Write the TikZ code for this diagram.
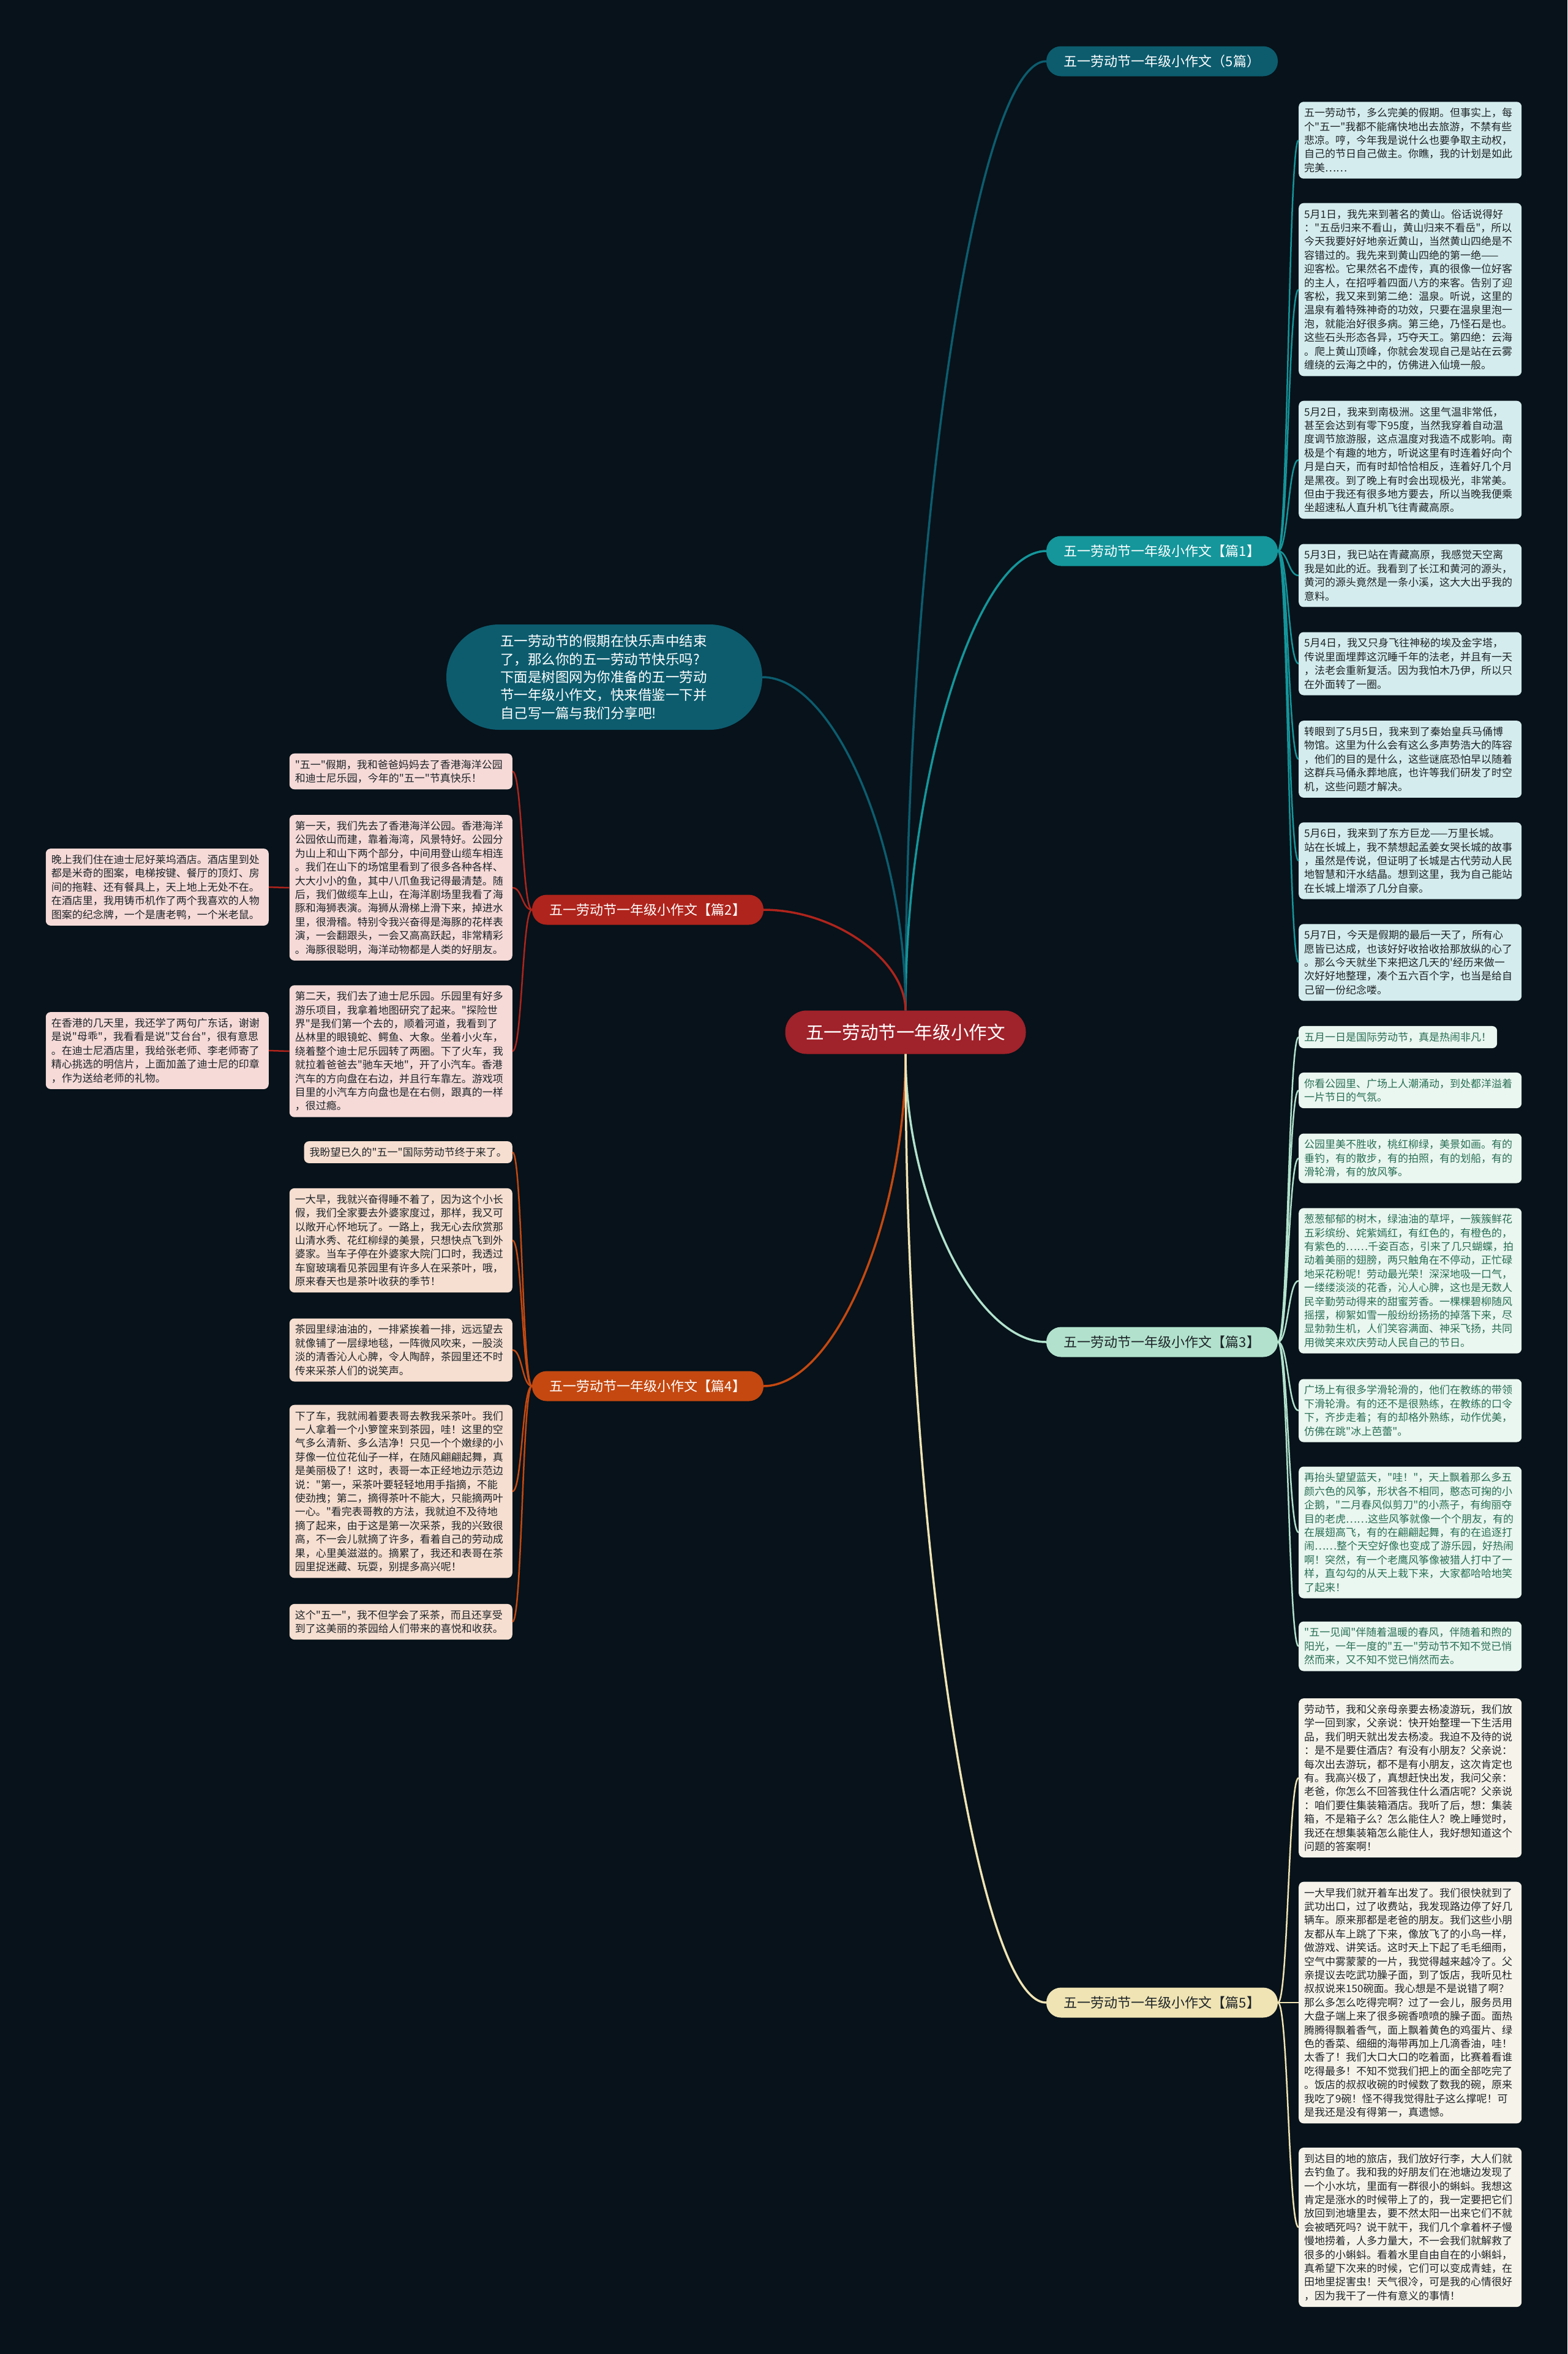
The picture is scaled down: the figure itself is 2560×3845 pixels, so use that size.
\documentclass[tikz,border=0pt]{standalone}
\usepackage{fontspec}
\setmainfont{Noto Sans CJK SC}[Ligatures=TeXOff]
\usetikzlibrary{calc}

\definecolor{bgnavy}{RGB}{7,18,26}
\definecolor{rootred}{RGB}{160,34,42}
\definecolor{deepteal}{RGB}{12,92,110}
\definecolor{brightteal}{RGB}{20,150,155}
\definecolor{tealfill}{RGB}{212,236,237}
\definecolor{redbranch}{RGB}{175,36,28}
\definecolor{pinkfill}{RGB}{245,218,216}
\definecolor{mintbranch}{RGB}{178,226,205}
\definecolor{mintfill}{RGB}{234,246,240}
\definecolor{mintink}{RGB}{40,110,85}
\definecolor{orangebranch}{RGB}{196,72,16}
\definecolor{peachfill}{RGB}{246,222,208}
\definecolor{creambranch}{RGB}{240,228,180}
\definecolor{creamfill}{RGB}{246,243,234}
\definecolor{darkink}{RGB}{30,36,40}

\tikzset{
  trunk/.style={line width=3.5pt, to path={let \p1=(\tikztostart), \p2=(\tikztotarget) in
    .. controls (\x1,{(\y1+\y2)/2}) and ({(\x1+\x2)/2},\y2) .. (\tikztotarget)}},
  twig/.style={line width=2.5pt, to path={let \p1=(\tikztostart), \p2=(\tikztotarget) in
    .. controls ({(\x1+\x2)/2},\y1) and ({(\x1+\x2)/2},\y2) .. (\tikztotarget)}},
  topic/.style={rounded corners=24pt, minimum width=378pt, minimum height=49pt, inner sep=0pt,
    font=\fontsize{22}{26}\selectfont},
  note/.style={rounded corners=8pt, inner xsep=9pt, inner ysep=10pt, align=left,
    font=\fontsize{17}{22.4}\selectfont},
  leaf/.style={note, text width=346pt},
  tealnote/.style={fill=tealfill, text=darkink, anchor=west},
  pinknote/.style={fill=pinkfill, text=darkink, anchor=east},
  mintnote/.style={fill=mintfill, text=mintink, anchor=west},
  peachnote/.style={fill=peachfill, text=darkink, anchor=east},
  creamnote/.style={fill=creamfill, text=darkink, anchor=west},
}

\begin{document}
\begin{tikzpicture}[x=1pt, y=-1pt]

  % Canvas
  \fill[bgnavy] (0,0) rectangle (2560,3845);
  \useasboundingbox (0,0) rectangle (2560,3845);

  % Root and main topics
  \node[rounded corners=35pt, fill=rootred, text=white, minimum width=393pt, minimum height=71pt,
    font=\fontsize{29.6}{34}\selectfont] (c) at (1479,1686) {五一劳动节一年级小作文};
  \node[topic, fill=deepteal, text=white] (b0) at (1898,100) {五一劳动节一年级小作文（5篇）};
  \node[topic, fill=brightteal, text=white] (b1) at (1898,900) {五一劳动节一年级小作文【篇1】};
  \node[topic, fill=redbranch, text=white] (b2) at (1058,1486) {五一劳动节一年级小作文【篇2】};
  \node[topic, fill=mintbranch, text=darkink] (b3) at (1898,2192) {五一劳动节一年级小作文【篇3】};
  \node[topic, fill=orangebranch, text=white] (b4) at (1058,2264) {五一劳动节一年级小作文【篇4】};
  \node[topic, fill=creambranch, text=darkink] (b5) at (1898,3271) {五一劳动节一年级小作文【篇5】};
  % Intro bubble
  \node[rounded corners=86pt, fill=deepteal, text=white, minimum height=172pt, inner xsep=88pt,
    text width=340pt, align=left, font=\fontsize{22.5}{29.4}\selectfont] (intro) at (987,1106)
    {五一劳动节的假期在快乐声中结束\\了，那么你的五一劳动节快乐吗?\\下面是树图网为你准备的五一劳动\\节一年级小作文，快来借鉴一下并\\自己写一篇与我们分享吧!};

  % Notes of part 1
  \node[leaf, tealnote] (l11) at (2121,229) {五一劳动节，多么完美的假期。但事实上，每\\个"五一"我都不能痛快地出去旅游，不禁有些\\悲凉。哼，今年我是说什么也要争取主动权，\\自己的节日自己做主。你瞧，我的计划是如此\\完美……};
  \node[leaf, tealnote] (l12) at (2121,473) {5月1日，我先来到著名的黄山。俗话说得好\\："五岳归来不看山，黄山归来不看岳"，所以\\今天我要好好地亲近黄山，当然黄山四绝是不\\容错过的。我先来到黄山四绝的第一绝——\\迎客松。它果然名不虚传，真的很像一位好客\\的主人，在招呼着四面八方的来客。告别了迎\\客松，我又来到第二绝：温泉。听说，这里的\\温泉有着特殊神奇的功效，只要在温泉里泡一\\泡，就能治好很多病。第三绝，乃怪石是也。\\这些石头形态各异，巧夺天工。第四绝：云海\\。爬上黄山顶峰，你就会发现自己是站在云雾\\缠绕的云海之中的，仿佛进入仙境一般。};
  \node[leaf, tealnote] (l13) at (2121,751) {5月2日，我来到南极洲。这里气温非常低，\\甚至会达到有零下95度，当然我穿着自动温\\度调节旅游服，这点温度对我造不成影响。南\\极是个有趣的地方，听说这里有时连着好向个\\月是白天，而有时却恰恰相反，连着好几个月\\是黑夜。到了晚上有时会出现极光，非常美。\\但由于我还有很多地方要去，所以当晚我便乘\\坐超速私人直升机飞往青藏高原。};
  \node[leaf, tealnote] (l14) at (2121,940) {5月3日，我已站在青藏高原，我感觉天空离\\我是如此的近。我看到了长江和黄河的源头，\\黄河的源头竟然是一条小溪，这大大出乎我的\\意料。};
  \node[leaf, tealnote] (l15) at (2121,1084) {5月4日，我又只身飞往神秘的埃及金字塔，\\传说里面埋葬这沉睡千年的法老，并且有一天\\，法老会重新复活。因为我怕木乃伊，所以只\\在外面转了一圈。};
  \node[leaf, tealnote] (l16) at (2121,1240) {转眼到了5月5日，我来到了秦始皇兵马俑博\\物馆。这里为什么会有这么多声势浩大的阵容\\，他们的目的是什么，这些谜底恐怕早以随着\\这群兵马俑永葬地底，也许等我们研发了时空\\机，这些问题才解决。};
  \node[leaf, tealnote] (l17) at (2121,1406) {5月6日，我来到了东方巨龙——万里长城。\\站在长城上，我不禁想起孟姜女哭长城的故事\\，虽然是传说，但证明了长城是古代劳动人民\\地智慧和汗水结晶。想到这里，我为自己能站\\在长城上增添了几分自豪。};
  \node[leaf, tealnote] (l18) at (2121,1572) {5月7日，今天是假期的最后一天了，所有心\\愿皆已达成，也该好好收拾收拾那放纵的心了\\。那么今天就坐下来把这几天的'经历来做一\\次好好地整理，凑个五六百个字，也当是给自\\己留一份纪念喽。};

  % Notes of part 2
  \node[leaf, pinknote] (l21) at (837,1260) {"五一"假期，我和爸爸妈妈去了香港海洋公园\\和迪士尼乐园，今年的"五一"节真快乐！};
  \node[leaf, pinknote] (l22) at (837,1450) {第一天，我们先去了香港海洋公园。香港海洋\\公园依山而建，靠着海湾，风景特好。公园分\\为山上和山下两个部分，中间用登山缆车相连\\。我们在山下的场馆里看到了很多各种各样、\\大大小小的鱼，其中八爪鱼我记得最清楚。随\\后，我们做缆车上山，在海洋剧场里我看了海\\豚和海狮表演。海狮从滑梯上滑下来，掉进水\\里，很滑稽。特别令我兴奋得是海豚的花样表\\演，一会翻跟头，一会又高高跃起，非常精彩\\。海豚很聪明，海洋动物都是人类的好朋友。};
  \node[leaf, pinknote] (l23) at (837,1717) {第二天，我们去了迪士尼乐园。乐园里有好多\\游乐项目，我拿着地图研究了起来。"探险世\\界"是我们第一个去的，顺着河道，我看到了\\丛林里的眼镜蛇、鳄鱼、大象。坐着小火车，\\绕着整个迪士尼乐园转了两圈。下了火车，我\\就拉着爸爸去"驰车天地"，开了小汽车。香港\\汽车的方向盘在右边，并且行车靠左。游戏项\\目里的小汽车方向盘也是在右侧，跟真的一样\\，很过瘾。};
  \node[leaf, pinknote] (l24) at (439,1449) {晚上我们住在迪士尼好莱坞酒店。酒店里到处\\都是米奇的图案，电梯按键、餐厅的顶灯、房\\间的拖鞋、还有餐具上，天上地上无处不在。\\在酒店里，我用铸币机作了两个我喜欢的人物\\图案的纪念牌，一个是唐老鸭，一个米老鼠。};
  \node[leaf, pinknote] (l25) at (439,1716) {在香港的几天里，我还学了两句广东话，谢谢\\是说"母乖"，我看看是说"艾台台"，很有意思\\。在迪士尼酒店里，我给张老师、李老师寄了\\精心挑选的明信片，上面加盖了迪士尼的印章\\，作为送给老师的礼物。};

  % Notes of part 3
  \node[note, mintnote] (l31) at (2121,1694) {五月一日是国际劳动节，真是热闹非凡！};
  \node[leaf, mintnote] (l32) at (2121,1781) {你看公园里、广场上人潮涌动，到处都洋溢着\\一片节日的气氛。};
  \node[leaf, mintnote] (l33) at (2121,1892) {公园里美不胜收，桃红柳绿，美景如画。有的\\垂钓，有的散步，有的拍照，有的划船，有的\\滑轮滑，有的放风筝。};
  \node[leaf, mintnote] (l34) at (2121,2092) {葱葱郁郁的树木，绿油油的草坪，一簇簇鲜花\\五彩缤纷、姹紫嫣红，有红色的，有橙色的，\\有紫色的……千姿百态，引来了几只蝴蝶，拍\\动着美丽的翅膀，两只触角在不停动，正忙碌\\地采花粉呢！劳动最光荣！深深地吸一口气，\\一缕缕淡淡的花香，沁人心脾，这也是无数人\\民辛勤劳动得来的甜蜜芳香。一棵棵碧柳随风\\摇摆，柳絮如雪一般纷纷扬扬的掉落下来，尽\\显勃勃生机，人们笑容满面、神采飞扬，共同\\用微笑来欢庆劳动人民自己的节日。};
  \node[leaf, mintnote] (l35) at (2121,2304) {广场上有很多学滑轮滑的，他们在教练的带领\\下滑轮滑。有的还不是很熟练，在教练的口令\\下，齐步走着；有的却格外熟练，动作优美，\\仿佛在跳"冰上芭蕾"。};
  \node[leaf, mintnote] (l36) at (2121,2503) {再抬头望望蓝天，"哇！"，天上飘着那么多五\\颜六色的风筝，形状各不相同，憨态可掬的小\\企鹅，"二月春风似剪刀"的小燕子，有绚丽夺\\目的老虎……这些风筝就像一个个朋友，有的\\在展翅高飞，有的在翩翩起舞，有的在追逐打\\闹……整个天空好像也变成了游乐园，好热闹\\啊！突然，有一个老鹰风筝像被猎人打中了一\\样，直勾勾的从天上栽下来，大家都哈哈地笑\\了起来！};
  \node[leaf, mintnote] (l37) at (2121,2689) {"五一见闻"伴随着温暖的春风，伴随着和煦的\\阳光，一年一度的"五一"劳动节不知不觉已悄\\然而来，又不知不觉已悄然而去。};

  % Notes of part 4
  \node[note, peachnote] (l41) at (837,1882) {我盼望已久的"五一"国际劳动节终于来了。};
  \node[leaf, peachnote] (l42) at (837,2026) {一大早，我就兴奋得睡不着了，因为这个小长\\假，我们全家要去外婆家度过，那样，我又可\\以敞开心怀地玩了。一路上，我无心去欣赏那\\山清水秀、花红柳绿的美景，只想快点飞到外\\婆家。当车子停在外婆家大院门口时，我透过\\车窗玻璃看见茶园里有许多人在采茶叶，哦，\\原来春天也是茶叶收获的季节！};
  \node[leaf, peachnote] (l43) at (837,2205) {茶园里绿油油的，一排紧挨着一排，远远望去\\就像铺了一层绿地毯，一阵微风吹来，一股淡\\淡的清香沁人心脾，令人陶醉，茶园里还不时\\传来采茶人们的说笑声。};
  \node[leaf, peachnote] (l44) at (837,2436) {下了车，我就闹着要表哥去教我采茶叶。我们\\一人拿着一个小箩筐来到茶园，哇！这里的空\\气多么清新、多么洁净！只见一个个嫩绿的小\\芽像一位位花仙子一样，在随风翩翩起舞，真\\是美丽极了！这时，表哥一本正经地边示范边\\说："第一，采茶叶要轻轻地用手指摘，不能\\使劲拽；第二，摘得茶叶不能大，只能摘两叶\\一心。"看完表哥教的方法，我就迫不及待地\\摘了起来，由于这是第一次采茶，我的兴致很\\高，不一会儿就摘了许多，看着自己的劳动成\\果，心里美滋滋的。摘累了，我还和表哥在茶\\园里捉迷藏、玩耍，别提多高兴呢！};
  \node[leaf, peachnote] (l45) at (837,2649) {这个"五一"，我不但学会了采茶，而且还享受\\到了这美丽的茶园给人们带来的喜悦和收获。};

  % Notes of part 5
  \node[leaf, creamnote] (l51) at (2121,2904) {劳动节，我和父亲母亲要去杨凌游玩，我们放\\学一回到家，父亲说：快开始整理一下生活用\\品，我们明天就出发去杨凌。我迫不及待的说\\：是不是要住酒店？有没有小朋友？父亲说：\\每次出去游玩，都不是有小朋友，这次肯定也\\有。我高兴极了，真想赶快出发，我问父亲：\\老爸，你怎么不回答我住什么酒店呢？父亲说\\：咱们要住集装箱酒店。我听了后，想：集装\\箱，不是箱子么？怎么能住人？晚上睡觉时，\\我还在想集装箱怎么能住人，我好想知道这个\\问题的答案啊！};
  \node[leaf, creamnote] (l52) at (2121,3271) {一大早我们就开着车出发了。我们很快就到了\\武功出口，过了收费站，我发现路边停了好几\\辆车。原来那都是老爸的朋友。我们这些小朋\\友都从车上跳了下来，像放飞了的小鸟一样，\\做游戏、讲笑话。这时天上下起了毛毛细雨，\\空气中雾蒙蒙的一片，我觉得越来越冷了。父\\亲提议去吃武功臊子面，到了饭店，我听见杜\\叔叔说来150碗面。我心想是不是说错了啊？\\那么多怎么吃得完啊？过了一会儿，服务员用\\大盘子端上来了很多碗香喷喷的臊子面。面热\\腾腾得飘着香气，面上飘着黄色的鸡蛋片、绿\\色的香菜、细细的海带再加上几滴香油，哇！\\太香了！我们大口大口的吃着面，比赛着看谁\\吃得最多！不知不觉我们把上的面全部吃完了\\。饭店的叔叔收碗的时候数了数我的碗，原来\\我吃了9碗！怪不得我觉得肚子这么撑呢！可\\是我还是没有得第一，真遗憾。};
  \node[leaf, creamnote] (l53) at (2121,3638) {到达目的地的旅店，我们放好行李，大人们就\\去钓鱼了。我和我的好朋友们在池塘边发现了\\一个小水坑，里面有一群很小的蝌蚪。我想这\\肯定是涨水的时候带上了的，我一定要把它们\\放回到池塘里去，要不然太阳一出来它们不就\\会被晒死吗？说干就干，我们几个拿着杯子慢\\慢地捞着，人多力量大，不一会我们就解救了\\很多的小蝌蚪。看着水里自由自在的小蝌蚪，\\真希望下次来的时候，它们可以变成青蛙，在\\田地里捉害虫！天气很冷，可是我的心情很好\\，因为我干了一件有意义的事情！};

  % Root connections
  \path[draw=deepteal, trunk] (c.north) to (b0.west);
  \path[draw=brightteal, trunk] (c.north) to (b1.west);
  \path[draw=deepteal, trunk] (c.north) to (intro.east);
  \path[draw=redbranch, trunk] (c.north) to (b2.east);
  \path[draw=mintbranch, trunk] (c.south) to (b3.west);
  \path[draw=orangebranch, trunk] (c.south) to (b4.east);
  \path[draw=creambranch, trunk] (c.south) to (b5.west);

  % Part 1 connections
  \path[draw=brightteal, twig] (b1.east) to (l11.west);
  \path[draw=brightteal, twig] (b1.east) to (l12.west);
  \path[draw=brightteal, twig] (b1.east) to (l13.west);
  \path[draw=brightteal, twig] (b1.east) to (l14.west);
  \path[draw=brightteal, twig] (b1.east) to (l15.west);
  \path[draw=brightteal, twig] (b1.east) to (l16.west);
  \path[draw=brightteal, twig] (b1.east) to (l17.west);
  \path[draw=brightteal, twig] (b1.east) to (l18.west);
  % Part 2 connections
  \path[draw=redbranch, twig] (b2.west) to (l21.east);
  \path[draw=redbranch, twig] (b2.west) to (l22.east);
  \path[draw=redbranch, twig] (b2.west) to (l23.east);
  \path[draw=redbranch, twig] (l22.west) to (l24.east);
  \path[draw=redbranch, twig] (l23.west) to (l25.east);
  % Part 3 connections
  \path[draw=mintbranch, twig] (b3.east) to (l31.west);
  \path[draw=mintbranch, twig] (b3.east) to (l32.west);
  \path[draw=mintbranch, twig] (b3.east) to (l33.west);
  \path[draw=mintbranch, twig] (b3.east) to (l34.west);
  \path[draw=mintbranch, twig] (b3.east) to (l35.west);
  \path[draw=mintbranch, twig] (b3.east) to (l36.west);
  \path[draw=mintbranch, twig] (b3.east) to (l37.west);
  % Part 4 connections
  \path[draw=orangebranch, twig] (b4.west) to (l41.east);
  \path[draw=orangebranch, twig] (b4.west) to (l42.east);
  \path[draw=orangebranch, twig] (b4.west) to (l43.east);
  \path[draw=orangebranch, twig] (b4.west) to (l44.east);
  \path[draw=orangebranch, twig] (b4.west) to (l45.east);
  % Part 5 connections
  \path[draw=creambranch, twig] (b5.east) to (l51.west);
  \path[draw=creambranch, twig] (b5.east) to (l52.west);
  \path[draw=creambranch, twig] (b5.east) to (l53.west);

\end{tikzpicture}
\end{document}
